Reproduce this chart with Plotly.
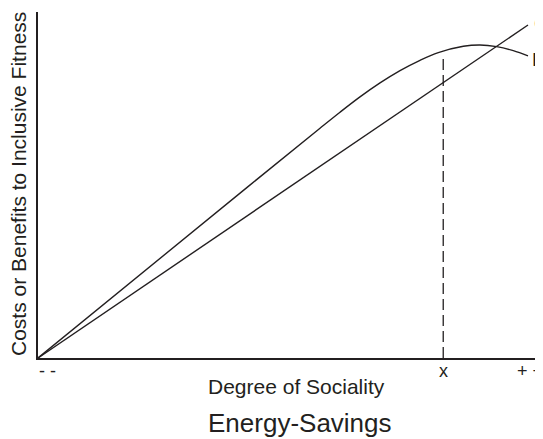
import plotly.graph_objects as go

# Data (normalized units: x 0..1 = "- -" .. "+ +", y 0..1 = C at right end)
cost_x = [0.0, 1.0]
cost_y = [0.0, 1.0]

benefit_x = [0.0, 0.433, 0.5755, 0.6163, 0.6571, 0.698, 0.7388, 0.7796, 0.8169, 0.868, 0.902, 0.9361, 0.970, 1.0]
benefit_y = [0.0, 0.520, 0.690, 0.738, 0.784, 0.826, 0.863, 0.894, 0.917, 0.936, 0.940, 0.935, 0.923, 0.907]

opt_x = 0.827
opt_top = 0.912

tick_vals = [0.019, 0.827, 1.004]
tick_text = ["- -", "x", "+ +"]

line_color = "#231f20"
font_family = "Liberation Sans, Arial, Helvetica, sans-serif"

# page body has an 8px margin, so the figure is smaller than the window
W, H = 535, 431
L, R, T = 30, 0, 4
plot_w = W - L - R
plot_h = 346
B = H - T - plot_h
x_max = plot_w / 490.0
y_max = plot_h / 333.0

fig = go.Figure()
fig.add_trace(go.Scatter(x=cost_x, y=cost_y, mode="lines",
                         line=dict(color=line_color, width=1.4), hoverinfo="skip"))
fig.add_trace(go.Scatter(x=benefit_x, y=benefit_y, mode="lines",
                         line=dict(color=line_color, width=1.4, shape="spline", smoothing=1.0),
                         hoverinfo="skip"))
fig.add_trace(go.Scatter(x=[opt_x, opt_x], y=[0, opt_top], mode="lines",
                         line=dict(color=line_color, width=1.3, dash="11px,5px"), hoverinfo="skip"))

fig.add_annotation(x=cost_x[-1], y=cost_y[-1], text="C", showarrow=False,
                   xanchor="left", yanchor="middle", xshift=4, yshift=2,
                   font=dict(family=font_family, size=19, color=line_color))
fig.add_annotation(x=benefit_x[-1], y=benefit_y[-1], text="B", showarrow=False,
                   xanchor="left", yanchor="middle", xshift=2, yshift=-4,
                   font=dict(family=font_family, size=19, color=line_color))

for tv, tt in zip(tick_vals, tick_text):
    fig.add_annotation(x=tv, xref="x", yref="paper", y=0, yshift=-13, text=tt,
                       showarrow=False, xanchor="center", yanchor="middle",
                       font=dict(family=font_family, size=18, color=line_color))

fig.add_annotation(xref="paper", yref="paper", x=(296 - 38) / plot_w, y=0,
                   yshift=-(386 - 358), text="Degree of Sociality", showarrow=False,
                   xanchor="center", yanchor="middle",
                   font=dict(family=font_family, size=21, color=line_color))
fig.add_annotation(xref="paper", yref="paper", x=(300 - 38) / plot_w, y=0,
                   yshift=-(423 - 358), text="Energy-Savings", showarrow=False,
                   xanchor="center", yanchor="middle",
                   font=dict(family=font_family, size=26, color=line_color))
fig.add_annotation(xref="paper", yref="paper", x=0, xshift=-(38 - 18), y=(358 - 184) / plot_h,
                   text="Costs or Benefits to Inclusive Fitness", showarrow=False,
                   textangle=-90, xanchor="center", yanchor="middle",
                   font=dict(family=font_family, size=21, color=line_color))

fig.update_layout(
    width=W, height=H,
    margin=dict(l=L, r=R, t=T, b=B),
    paper_bgcolor="white", plot_bgcolor="white",
    showlegend=False,
    xaxis=dict(range=[0, x_max], showgrid=False, zeroline=False, automargin=False,
               showline=True, linecolor=line_color, linewidth=1.6,
               showticklabels=False, ticks=""),
    yaxis=dict(range=[0, y_max], showgrid=False, zeroline=False, automargin=False,
               showline=True, linecolor=line_color, linewidth=1.6,
               showticklabels=False, ticks=""),
)

fig.write_html("out.html")
